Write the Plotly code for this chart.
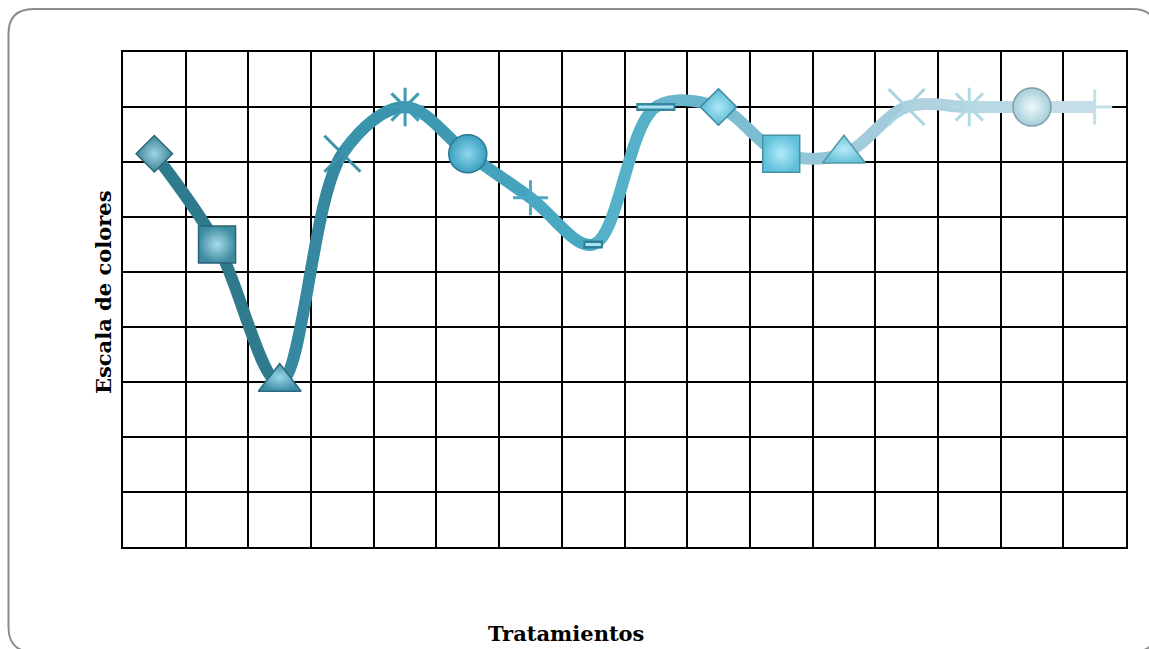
import plotly.graph_objects as go

# Treatments on the x axis and their colour-scale readings
tratamientos = [f"T{i}" for i in range(1, 17)]
escala = [7.15, 5.5, 3.0, 7.15, 8.0, 7.15, 6.35, 5.5,
          8.0, 8.0, 7.15, 7.15, 8.0, 8.0, 8.0, 8.0]

# Per-point styling (marker shapes cycle like an office chart palette)
simbolos = ["diamond", "square", "triangle-up", "x-thin", "asterisk", "circle",
            "cross-thin", "line-ew", "line-ew", "diamond", "square", "triangle-up",
            "x-thin", "asterisk", "circle", "cross-thin"]
tamanos = [28, 37, 37, 36, 32, 38, 25, 14, 28, 28, 37, 37, 36, 32, 38, 25]
color_punto = ["#3a8497", "#3d8ba0", "#3b8ea8", "#3b93ab", "#3f9ab3", "#3aa0c0",
               "#4aabc6", "#47acc8", "#4db3cf", "#56b9d4", "#5fc0da", "#68c2da",
               "#a8d5e2", "#b2dae5", "#a6cdd8", "#c3e0e8"]
color_brillo = ["#9fd3e2", "#a8dceb", "#9ad6e8", "#3b93ab", "#3f9ab3", "#8fd6ec",
                "#4aabc6", "#a6e6f6", "#aeeaf8", "#aee8f7", "#b4ebf9", "#b8ebf8",
                "#a8d5e2", "#b2dae5", "#eefafd", "#c3e0e8"]
color_borde = ["#2b6676", "#2a6475", "#2c6b7f", "#3b93ab", "#3f9ab3", "#2b7890",
               "#4aabc6", "#2f7f98", "#35869e", "#3a88a0", "#4590a6", "#5597aa",
               "#a8d5e2", "#b2dae5", "#7a9fab", "#c3e0e8"]
color_tramo = ["#2f7b8e", "#307a8e", "#3588a0", "#3a94ac", "#3e9ab3", "#45a3bd",
               "#49a9c3", "#55b0c8", "#69b6cc", "#7dbdd1", "#93c6d6", "#a2ccdb",
               "#b0d3df", "#bad8e3", "#c5dde6"]

n = len(escala)
ancho_px = 1003.0
e = 0.5 / ancho_px  # tiny overlap between neighbouring line pieces
BASE = 10           # first axis number used by the curve pieces
MARK = 40           # axis number for the marker layer (drawn last)
Y_RANGE = [0, 9]

fig = go.Figure()
layout_axes = {}

# Hover layer on the main subplot (it also carries the grid)
fig.add_trace(go.Scatter(
    x=list(range(n)), y=escala, mode="markers", text=tratamientos,
    marker=dict(size=30, opacity=0), showlegend=False,
    hovertemplate="%{text}: %{y}<extra></extra>"))

# Each curve piece lives in its own clipped sub-area so it can carry its own
# colour while following the same smooth spline through the neighbours.
for i in range(n - 1):
    idx = list(range(max(0, i - 1), min(n, i + 3)))
    num = BASE + i
    fig.add_trace(go.Scatter(
        x=idx, y=[escala[k] for k in idx], xaxis=f"x{num}", yaxis="y2",
        mode="lines", line=dict(color=color_tramo[i], width=12,
                                shape="spline", smoothing=1, simplify=False),
        hoverinfo="skip", showlegend=False))
    layout_axes[f"xaxis{num}"] = dict(
        domain=[(i + 0.5) / n - e, (i + 1.5) / n + e],
        range=[i - n * e, i + 1 + n * e], anchor="y2", visible=False,
        fixedrange=True)

# Markers on top of all curve pieces
lineales = ("x-thin", "asterisk", "cross-thin", "line-ew")
fig.add_trace(go.Scatter(
    x=list(range(n)), y=escala, xaxis=f"x{MARK}", yaxis="y2", mode="markers",
    cliponaxis=False, showlegend=False, hoverinfo="skip",
    marker=dict(symbol=simbolos, size=tamanos, color=color_punto, opacity=1,
                gradient=dict(type="radial", color=color_brillo),
                line=dict(color=color_borde,
                          width=[(8 if s == "line-ew" else 3) if s in lineales else 1.5
                                 for s in simbolos]))))

# Light highlight inside the dash markers
guiones = [k for k, s in enumerate(simbolos) if s == "line-ew"]
fig.add_trace(go.Scatter(
    x=guiones, y=[escala[k] for k in guiones], xaxis=f"x{MARK}", yaxis="y2",
    mode="markers", cliponaxis=False, showlegend=False, hoverinfo="skip",
    marker=dict(symbol="line-ew", size=[tamanos[k] - 3 for k in guiones], opacity=1,
                line=dict(color="#a9e6f5", width=3))))

layout_axes[f"xaxis{MARK}"] = dict(domain=[0, 1], range=[-0.5, n - 0.5],
                                   anchor="y2", visible=False, fixedrange=True)
# Hidden twin of the value axis, so the grid is only drawn once, underneath
layout_axes["yaxis2"] = dict(domain=[0, 1], range=Y_RANGE, anchor=f"x{MARK}",
                             visible=False, fixedrange=True)

L, T, W, H = 123, 52, 1003, 495


def px(x):
    return (x - L) / W


def py(y):
    return (T + H - y) / H


# Rounded outer frame of the chart area
x0, y0, x1, y1, r = 8.5, 9, 1157, 652, 25
frame = (f"M {px(x0 + r)},{py(y0)} L {px(x1 - r)},{py(y0)} "
         f"Q {px(x1)},{py(y0)} {px(x1)},{py(y0 + r)} "
         f"L {px(x1)},{py(y1 - r)} Q {px(x1)},{py(y1)} {px(x1 - r)},{py(y1)} "
         f"L {px(x0 + r)},{py(y1)} Q {px(x0)},{py(y1)} {px(x0)},{py(y1 - r)} "
         f"L {px(x0)},{py(y0 + r)} Q {px(x0)},{py(y0)} {px(x0 + r)},{py(y0)} Z")

grid = dict(showgrid=True, gridcolor="#000000", gridwidth=2, showticklabels=False,
            ticks="", showline=True, linecolor="#000000", linewidth=2,
            mirror=True, zeroline=False, fixedrange=True)

fig.update_layout(
    width=1149, height=649,
    margin=dict(l=L, r=1149 - L - W, t=T, b=649 - T - H),
    paper_bgcolor="#ffffff", plot_bgcolor="rgba(0,0,0,0)",
    hovermode="closest",
    xaxis=dict(range=[-0.5, n - 0.5], tickmode="array",
               tickvals=[k - 0.5 for k in range(n + 1)], anchor="y", **grid),
    yaxis=dict(range=Y_RANGE, tickmode="linear", tick0=0, dtick=1, anchor="x", **grid),
    shapes=[dict(type="path", xref="paper", yref="paper", path=frame,
                 line=dict(color="#8c8c8c", width=2), layer="below")],
    annotations=[
        dict(text="<b>Tratamientos</b>", xref="paper", yref="paper",
             x=px(566), y=py(633), xanchor="center", yanchor="middle",
             showarrow=False, font=dict(family="DejaVu Serif", size=21, color="#000")),
        dict(text="<b>Escala de colores</b>", xref="paper", yref="paper",
             x=px(103), y=py(292), xanchor="center", yanchor="middle", textangle=-90,
             showarrow=False, font=dict(family="DejaVu Serif", size=21, color="#000")),
    ],
    **layout_axes,
)

fig.write_html("out.html")
